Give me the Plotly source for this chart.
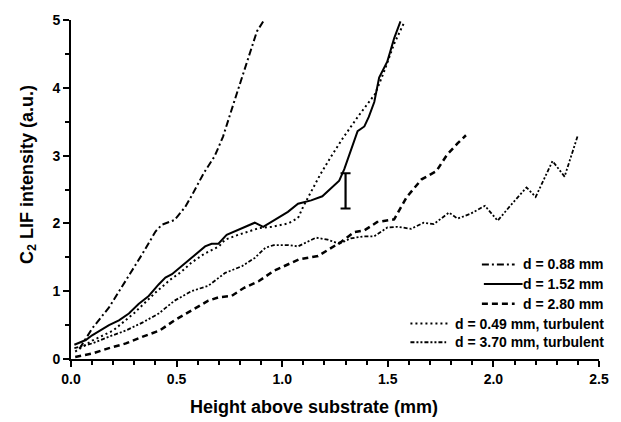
import plotly.graph_objects as go

# ---- data ----
x_088 = [0.04,0.07,0.10,0.18,0.26,0.34,0.40,0.43,0.49,0.54,0.57,0.60,0.63,0.68,0.72,0.77,0.80,0.85,0.88,0.91]
y_088 = [0.15,0.30,0.45,0.76,1.15,1.56,1.88,1.98,2.05,2.24,2.40,2.58,2.75,2.99,3.28,3.77,4.06,4.54,4.83,4.98]

x_152 = [0.016,0.07,0.10,0.18,0.227,0.274,0.32,0.368,0.415,0.447,0.478,0.525,0.572,0.635,0.666,0.698,0.737,0.79,0.87,0.91,0.964,1.027,1.075,1.137,1.19,1.23,1.27,1.294,1.325,1.357,1.389,1.41,1.436,1.459,1.498,1.53,1.56]
y_152 = [0.21,0.28,0.35,0.50,0.57,0.67,0.81,0.93,1.10,1.20,1.25,1.37,1.49,1.66,1.70,1.70,1.83,1.90,2.01,1.95,2.05,2.17,2.29,2.34,2.40,2.51,2.63,2.80,3.09,3.36,3.43,3.57,3.79,4.15,4.39,4.73,4.98]

x_280 = [0.02,0.10,0.18,0.26,0.34,0.42,0.49,0.57,0.65,0.70,0.76,0.82,0.89,0.96,1.04,1.08,1.17,1.23,1.28,1.34,1.39,1.45,1.53,1.59,1.66,1.73,1.78,1.83,1.87]
y_280 = [0.03,0.08,0.16,0.23,0.33,0.42,0.57,0.71,0.86,0.91,0.93,1.05,1.15,1.30,1.42,1.47,1.52,1.64,1.73,1.87,1.90,2.02,2.06,2.39,2.65,2.77,3.01,3.18,3.30]

x_049t = [0.02,0.10,0.20,0.30,0.40,0.47,0.52,0.57,0.63,0.70,0.73,0.79,0.89,0.95,1.03,1.075,1.10,1.14,1.18,1.23,1.29,1.36,1.44,1.48,1.53,1.58]
y_049t = [0.11,0.27,0.42,0.68,0.98,1.17,1.28,1.42,1.55,1.66,1.76,1.83,1.93,1.95,2.00,2.08,2.25,2.48,2.72,2.98,3.27,3.58,3.91,4.22,4.65,4.98]

x_370t = [0.016,0.10,0.18,0.26,0.34,0.415,0.49,0.57,0.65,0.73,0.81,0.87,0.92,0.96,1.03,1.075,1.16,1.215,1.27,1.325,1.389,1.436,1.498,1.545,1.61,1.67,1.718,1.79,1.83,1.89,1.96,2.02,2.08,2.157,2.20,2.28,2.337,2.40]
y_370t = [0.16,0.23,0.33,0.42,0.54,0.67,0.86,1.00,1.08,1.27,1.37,1.49,1.64,1.68,1.68,1.66,1.79,1.76,1.70,1.78,1.81,1.81,1.94,1.95,1.92,2.01,1.99,2.16,2.07,2.14,2.26,2.04,2.26,2.53,2.39,2.92,2.69,3.30]

err_x = [1.30]
err_y = [2.48]
err_size = [0.26]

labels = ["d = 0.88 mm", "d = 1.52 mm", "d = 2.80 mm",
          "d = 0.49 mm, turbulent", "d = 3.70 mm, turbulent"]
x_title = "Height above substrate (mm)"
y_title = "C<sub>2</sub> LIF intensity (a.u.)"

# ---- styles ----
styles = [
    dict(width=2, dash="7px,3px,2px,3px"),
    dict(width=2, dash="solid"),
    dict(width=2.5, dash="6px,4px"),
    dict(width=2, dash="2px,3px"),
    dict(width=1.8, dash="4px,2px,2px,2px,2px,2px"),
]
series = [(x_088, y_088), (x_152, y_152), (x_280, y_280), (x_049t, y_049t), (x_370t, y_370t)]

FONT = "Liberation Sans, Arial, Helvetica, sans-serif"

fig = go.Figure()
for (xs, ys), st, lab in zip(series, styles, labels):
    fig.add_trace(go.Scatter(x=xs, y=ys, mode="lines", name=lab, showlegend=False,
                             line=dict(color="black", width=st["width"], dash=st["dash"])))

fig.add_trace(go.Scatter(x=err_x, y=err_y, mode="markers", showlegend=False,
                         marker=dict(size=1, color="rgba(0,0,0,0)"),
                         error_y=dict(type="data", array=err_size, visible=True,
                                      color="black", thickness=2.2, width=5)))

# ---- layout helpers (pixel -> paper) ----
L, R, T, B = 71, 603, 15, 359
def px2paper_x(px):
    return (px - L) / (R - L)
def px2paper_y(py):
    return (B - py) / (B - T)

# ---- custom legend (right-aligned text, line sample to the left) ----
leg_rows = [263, 283, 303, 323, 342]
leg_samples = [(485, 518), (487, 526), (485, 518), (413, 451), (413, 449)]
for lab, st, row, (s0, s1) in zip(labels, styles, leg_rows, leg_samples):
    fig.add_annotation(x=px2paper_x(610), y=px2paper_y(row), xref="paper", yref="paper",
                       text=lab, showarrow=False, xanchor="right", yanchor="middle",
                       font=dict(family=FONT, size=14, color="black", weight="bold"))
    fig.add_shape(type="line", xref="paper", yref="paper",
                  x0=px2paper_x(s0), x1=px2paper_x(s1),
                  y0=px2paper_y(row), y1=px2paper_y(row),
                  line=dict(color="black", width=st["width"], dash=st["dash"]))

# ---- axis titles as annotations for exact placement ----
fig.add_annotation(x=px2paper_x(316), y=px2paper_y(408), xref="paper", yref="paper",
                   text=x_title, showarrow=False, xanchor="center", yanchor="middle",
                   font=dict(family=FONT, size=18, color="black", weight="bold"))
fig.add_annotation(x=px2paper_x(28), y=px2paper_y(172), xref="paper", yref="paper",
                   text=y_title, showarrow=False, xanchor="center", yanchor="middle",
                   textangle=-90,
                   font=dict(family=FONT, size=18, color="black", weight="bold"))

fig.update_layout(
    width=621, height=422,
    margin=dict(l=L, r=621 - R, t=T, b=422 - B),
    paper_bgcolor="white", plot_bgcolor="white",
    font=dict(family=FONT, color="black", weight="bold"),
    xaxis=dict(range=[0, 2.5], tickvals=[0, 0.5, 1.0, 1.5, 2.0, 2.5], tickformat=".1f",
               ticks="outside", ticklen=6, tickwidth=2, tickcolor="black",
               minor=dict(dtick=0.1, ticks="outside", ticklen=4, tickwidth=1.5, tickcolor="black"),
               showline=True, linewidth=2, linecolor="black", showgrid=False, zeroline=False,
               tickfont=dict(family=FONT, size=14, weight="bold")),
    yaxis=dict(range=[0, 5], tickvals=[0, 1, 2, 3, 4, 5],
               ticks="outside", ticklen=6, tickwidth=2, tickcolor="black",
               minor=dict(dtick=0.5, ticks="outside", ticklen=4, tickwidth=1.5, tickcolor="black"),
               showline=True, linewidth=2, linecolor="black", showgrid=False, zeroline=False,
               tickfont=dict(family=FONT, size=14, weight="bold")),
)

fig.write_html("out.html")
